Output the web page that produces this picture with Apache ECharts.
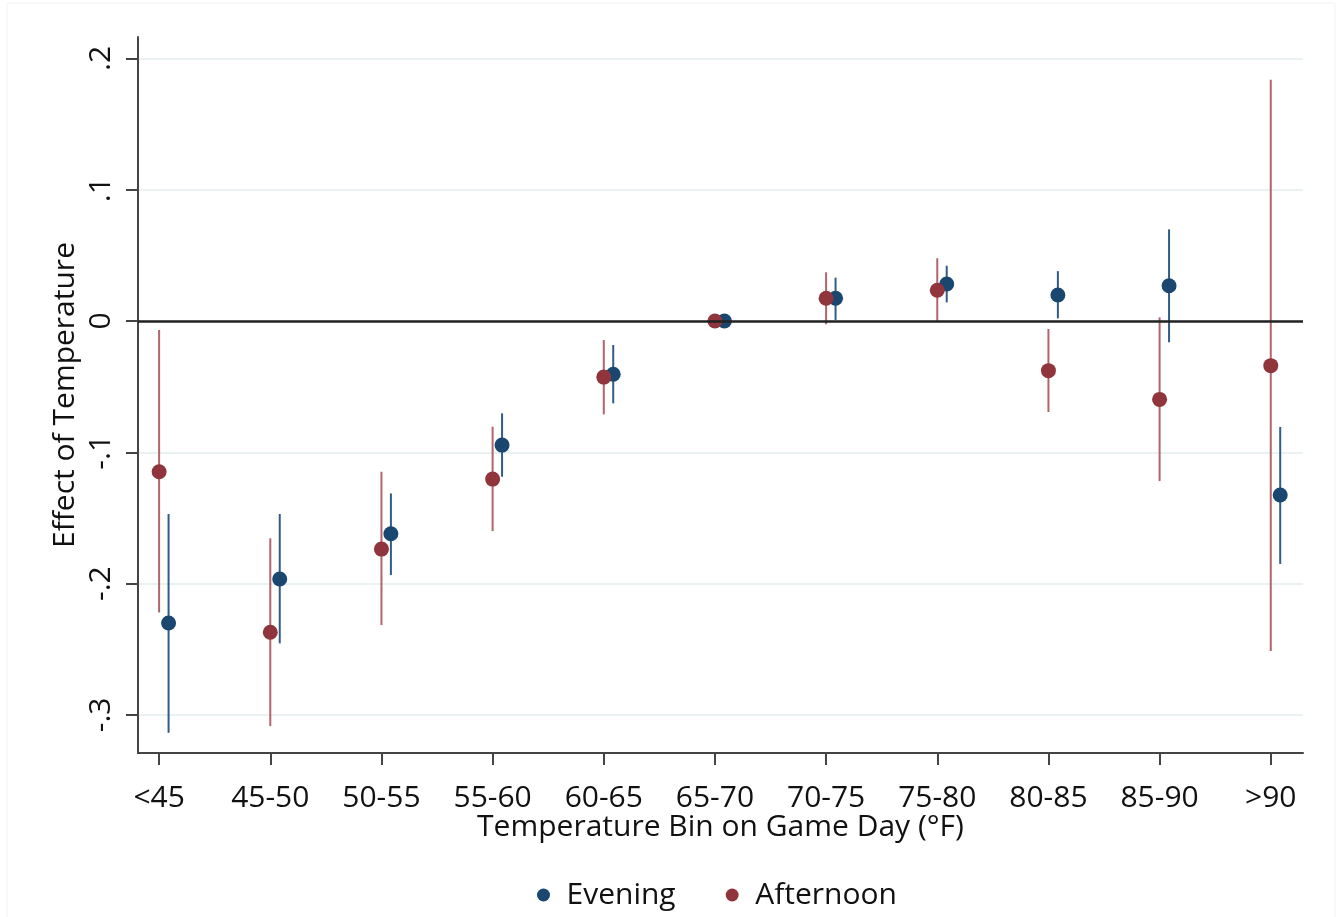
<!DOCTYPE html>
<html>
<head>
<meta charset="utf-8">
<script src="https://cdn.jsdelivr.net/npm/echarts@6/dist/echarts.min.js"></script>
<style>
html,body{margin:0;padding:0;background:#fff;}
#chart{width:1338px;height:917px;}
</style>
</head>
<body>
<div id="chart"></div>
<script>
// ---- data ----
var categories = ['<45','45-50','50-55','55-60','60-65','65-70','70-75','75-80','80-85','85-90','>90'];
var eveningEst  = [-0.230, -0.1965, -0.162, -0.0945, -0.0406, 0, 0.0173, 0.0282, 0.0198, 0.0269, -0.1325];
var eveningLow  = [-0.3136, -0.2455, -0.1935, -0.1186, -0.0627, null, 0.0008, 0.0142, 0.002, -0.0162, -0.185];
var eveningHigh = [-0.147, -0.147, -0.1313, -0.0703, -0.0183, null, 0.033, 0.0421, 0.038, 0.0698, -0.0807];
var afternoonEst  = [-0.1148, -0.237, -0.1737, -0.1204, -0.0427, 0, 0.0173, 0.0234, -0.0378, -0.0597, -0.034];
var afternoonLow  = [-0.222, -0.3085, -0.2316, -0.160, -0.0711, null, -0.0025, -0.0005, -0.0693, -0.1219, -0.2513];
var afternoonHigh = [-0.0069, -0.1655, -0.1148, -0.0805, -0.0145, null, 0.0371, 0.0478, -0.0061, 0.0028, 0.1837];
var yTickValues = [-0.3, -0.2, -0.1, 0, 0.1, 0.2];
var yTickLabels = ['-.3', '-.2', '-.1', '0', '.1', '.2'];

var EVENING_OFFSET = 0.085;
var FONT = '"Open Sans", sans-serif';
var C_EVE = '#1a476f', C_EVE_CI = '#2f5c88';
var C_AFT = '#90353b', C_AFT_CI = '#b3646a';

function ciData(low, high, off) {
  return categories.map(function (c, i) { return [i + off, low[i], high[i]]; });
}
function ptData(est, off) {
  return categories.map(function (c, i) { return [i + off, est[i]]; });
}
function ciRender(color) {
  return function (params, api) {
    var lo = api.value(1), hi = api.value(2);
    if (lo == null || hi == null || isNaN(lo) || isNaN(hi)) return null;
    var x = api.value(0);
    var p1 = api.coord([x, lo]), p2 = api.coord([x, hi]);
    return { type: 'line', shape: { x1: p1[0], y1: p1[1], x2: p2[0], y2: p2[1] },
             style: { stroke: color, lineWidth: 2 } };
  };
}
var catIdx = categories.map(function (c, i) { return i; });

var chart = echarts.init(document.getElementById('chart'), null, { renderer: 'canvas' });
chart.setOption({
  animation: false,
  backgroundColor: '#fff',
  textStyle: { fontFamily: FONT },
  graphic: [{ type: 'rect', shape: { x: 7, y: 3, width: 1328, height: 940 },
              style: { fill: 'none', stroke: '#f3f3f3', lineWidth: 1 }, silent: true }],
  grid: { left: 138, right: 35, top: 37, bottom: 164, containLabel: false },
  xAxis: {
    type: 'value', min: -0.19, max: 10.29,
    name: 'Temperature Bin on Game Day (°F)', nameLocation: 'middle', nameGap: 59, nameMoveOverlap: false,
    nameTextStyle: { fontFamily: FONT, fontSize: 30, color: '#111' },
    axisLine: { show: true, onZero: false, lineStyle: { color: '#444', width: 2 } },
    axisTick: { show: true, length: 12, customValues: catIdx, lineStyle: { color: '#444', width: 2 } },
    axisLabel: { customValues: catIdx, margin: 30, fontFamily: FONT, fontSize: 30, color: '#111',
                 formatter: function (v) { return categories[Math.round(v)]; } },
    splitLine: { show: false }
  },
  yAxis: {
    type: 'value', min: -0.329, max: 0.2163,
    name: 'Effect of Temperature', nameLocation: 'middle', nameGap: 58, nameMoveOverlap: false,
    nameTextStyle: { fontFamily: FONT, fontSize: 30, color: '#111' },
    axisLine: { show: true, onZero: false, lineStyle: { color: '#444', width: 2 } },
    axisTick: { show: true, length: 12, customValues: yTickValues, lineStyle: { color: '#444', width: 2 } },
    axisLabel: { customValues: yTickValues, rotate: 90, margin: 22, fontFamily: FONT, fontSize: 30, color: '#111',
                 formatter: function (v) {
                   var best = 0;
                   for (var i = 0; i < yTickValues.length; i++) if (Math.abs(yTickValues[i] - v) < Math.abs(yTickValues[best] - v)) best = i;
                   return yTickLabels[best];
                 } },
    splitLine: { show: true, lineStyle: { color: '#e9f1f3', width: 2 } }
  },
  legend: {
    data: ['Evening', 'Afternoon'], top: 875, left: 532,
    icon: 'circle', itemWidth: 36, itemHeight: 13, itemGap: 50,
    textStyle: { fontFamily: FONT, fontSize: 30, color: '#111' }
  },
  series: [
    { type: 'custom', name: 'Evening CI', renderItem: ciRender(C_EVE_CI), data: ciData(eveningLow, eveningHigh, EVENING_OFFSET),
      encode: { x: 0, y: [1, 2] }, z: 2, silent: true,
      markLine: { silent: true, symbol: 'none', label: { show: false },
                  lineStyle: { color: '#222', width: 2.5, type: 'solid' }, data: [{ yAxis: 0 }] } },
    { type: 'custom', name: 'Afternoon CI', renderItem: ciRender(C_AFT_CI), data: ciData(afternoonLow, afternoonHigh, 0),
      encode: { x: 0, y: [1, 2] }, z: 2, silent: true },
    { type: 'scatter', name: 'Evening', data: ptData(eveningEst, EVENING_OFFSET), symbolSize: 15,
      itemStyle: { color: C_EVE, opacity: 1 }, z: 3 },
    { type: 'scatter', name: 'Afternoon', data: ptData(afternoonEst, 0), symbolSize: 15,
      itemStyle: { color: C_AFT, opacity: 1 }, z: 4 }
  ]
});
</script>
</body>
</html>
